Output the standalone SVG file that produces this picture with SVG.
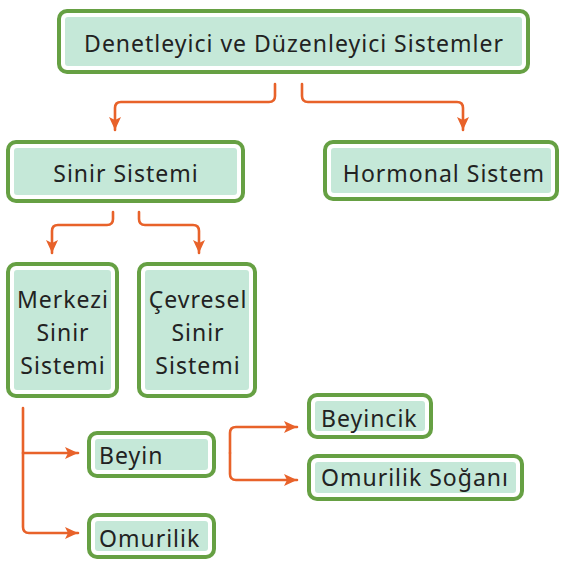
<svg xmlns="http://www.w3.org/2000/svg" width="565" height="562" viewBox="0 0 565 562">
<defs>
<marker id="ah" markerUnits="userSpaceOnUse" markerWidth="14" markerHeight="14" viewBox="0 0 14 14" refX="13" refY="7" orient="auto">
<path d="M0,1 L13,7 L0,13 L3,7 Z" fill="#e8622a"/>
</marker>
</defs>
<style>
.box{fill:#ffffff;stroke:#66a043;stroke-width:4}
.fill{fill:#c5e8d8}
.t{font-family:"Noto Sans","Liberation Sans",sans-serif;font-size:23px;letter-spacing:1px;fill:#222}
.c{text-anchor:middle}
.con{fill:none;stroke:#e8622a;stroke-width:2.6;stroke-linecap:round}
</style>
<rect width="565" height="562" fill="#ffffff"/>
<g id="connectors">
<path class="con" d="M275,84 V96 Q275,102 269,102 H121 Q115,102 115,108 V130" marker-end="url(#ah)"/>
<path class="con" d="M302,84 V96 Q302,102 308,102 H457 Q463,102 463,108 V130" marker-end="url(#ah)"/>
<path class="con" d="M113,212 V219 Q113,225 107,225 H58 Q52,225 52,231 V253" marker-end="url(#ah)"/>
<path class="con" d="M139,212 V219 Q139,225 145,225 H193 Q199,225 199,231 V253" marker-end="url(#ah)"/>
<path class="con" d="M23,408 V527 Q23,533 29,533 H78" marker-end="url(#ah)"/>
<path class="con" d="M23,453 H78" marker-end="url(#ah)"/>
<path class="con" d="M230,453 V433 Q230,427 236,427 H297" marker-end="url(#ah)"/>
<path class="con" d="M230,453 V474 Q230,480 236,480 H297" marker-end="url(#ah)"/>
</g>
<g id="n-top">
<rect class="box" x="59" y="11" width="469" height="61" rx="8"/>
<rect class="fill" x="65" y="17" width="457" height="49" rx="3"/>
<text class="t c" x="294" y="52">Denetleyici ve Düzenleyici Sistemler</text>
</g>
<g id="n-sinir">
<rect class="box" x="8" y="142" width="235" height="59" rx="8"/>
<rect class="fill" x="14" y="148" width="223" height="47" rx="3"/>
<text class="t c" x="126" y="182">Sinir Sistemi</text>
</g>
<g id="n-hormonal">
<rect class="box" x="325" y="142" width="232" height="57" rx="8"/>
<rect class="fill" x="331" y="148" width="220" height="45" rx="3"/>
<text class="t c" x="444" y="182">Hormonal Sistem</text>
</g>
<g id="n-merkezi">
<rect class="box" x="8" y="264" width="109" height="132" rx="8"/>
<rect class="fill" x="14" y="270" width="97" height="120" rx="3"/>
<text class="t c" x="63" y="308">Merkezi</text>
<text class="t c" x="63" y="341">Sinir</text>
<text class="t c" x="63" y="374">Sistemi</text>
</g>
<g id="n-cevresel">
<rect class="box" x="139" y="264" width="116" height="132" rx="8"/>
<rect class="fill" x="145" y="270" width="104" height="120" rx="3"/>
<text class="t c" x="198" y="308">Çevresel</text>
<text class="t c" x="198" y="341">Sinir</text>
<text class="t c" x="198" y="374">Sistemi</text>
</g>
<g id="n-beyin">
<rect class="box" x="89" y="433" width="125" height="43" rx="8"/>
<rect class="fill" x="95" y="439" width="113" height="31" rx="3"/>
<text class="t" x="99" y="464">Beyin</text>
</g>
<g id="n-omurilik">
<rect class="box" x="89" y="515" width="125" height="42" rx="8"/>
<rect class="fill" x="95" y="521" width="113" height="30" rx="3"/>
<text class="t" x="99" y="547">Omurilik</text>
</g>
<g id="n-beyincik">
<rect class="box" x="309" y="395" width="122" height="42" rx="8"/>
<rect class="fill" x="315" y="401" width="110" height="30" rx="3"/>
<text class="t" x="321" y="427">Beyincik</text>
</g>
<g id="n-sogan">
<rect class="box" x="309" y="456" width="213" height="43" rx="8"/>
<rect class="fill" x="315" y="462" width="201" height="31" rx="3"/>
<text class="t" x="321" y="486">Omurilik Soğanı</text>
</g>
</svg>
